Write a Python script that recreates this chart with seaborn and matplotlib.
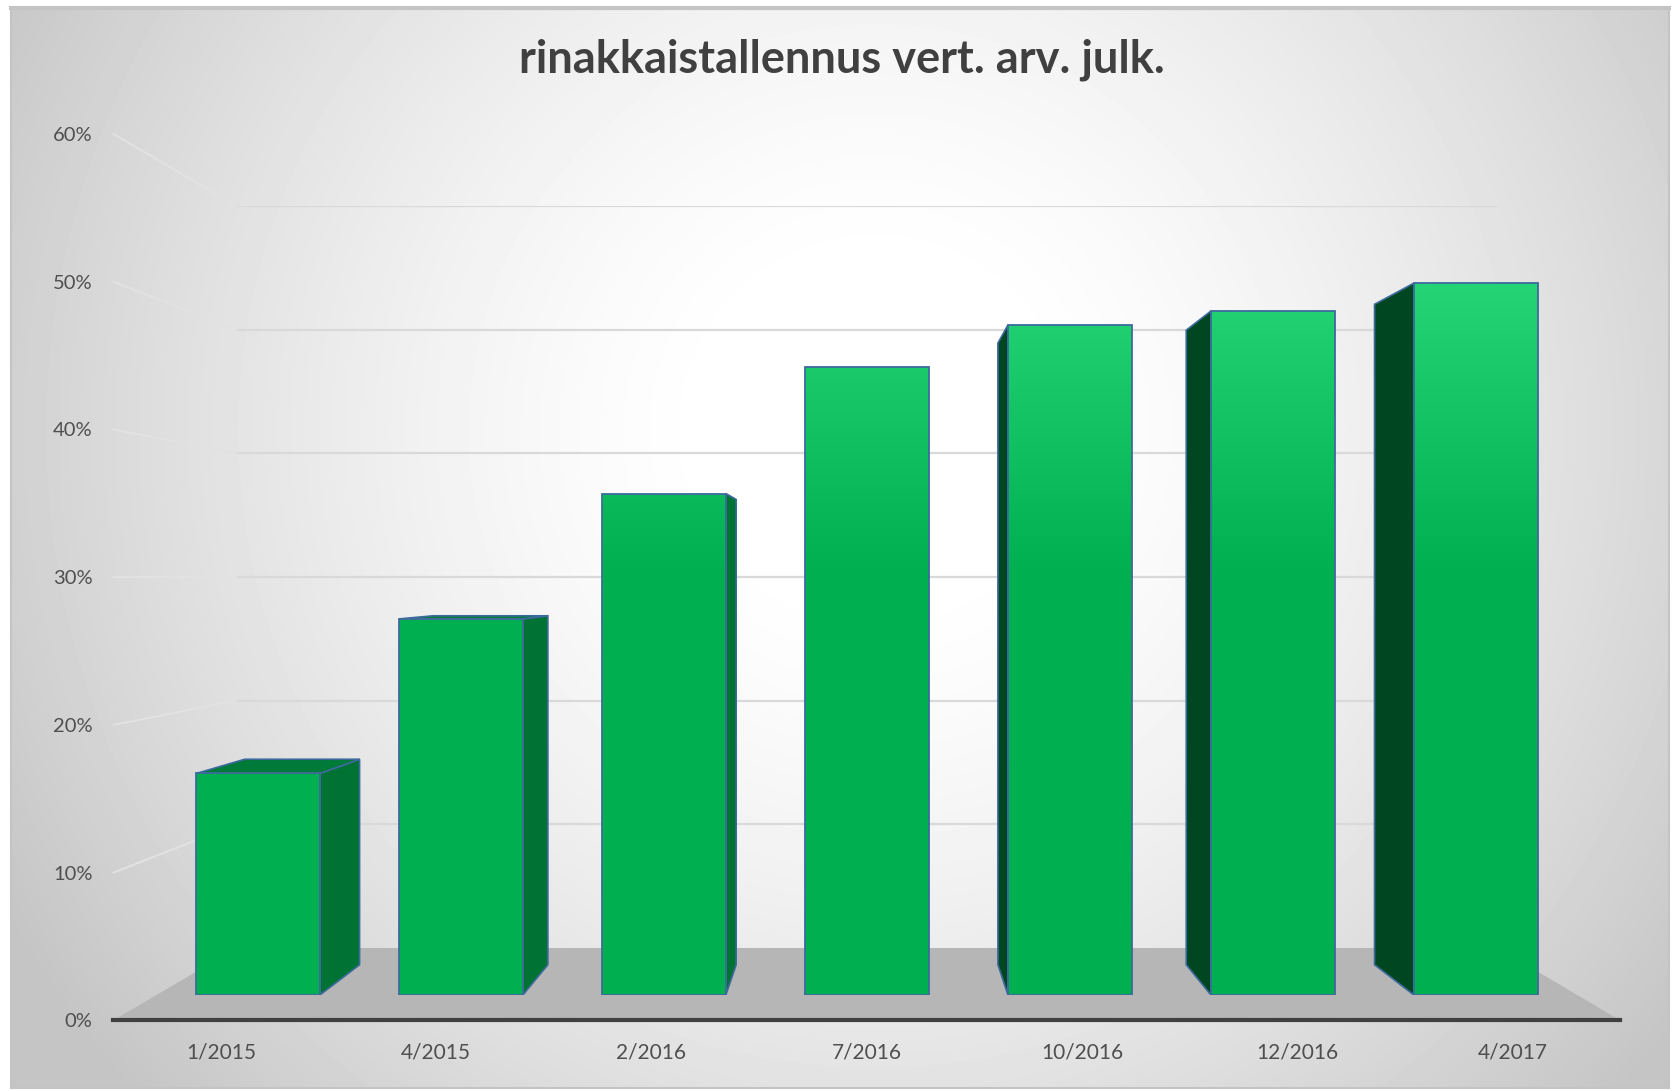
import numpy as np
import pandas as pd
import matplotlib
matplotlib.use('Agg')
from matplotlib import pyplot as plt
from matplotlib.patches import Polygon
from matplotlib.ticker import PercentFormatter
from matplotlib.colors import LinearSegmentedColormap
import seaborn as sns

# data
periods = ['1/2015', '4/2015', '2/2016', '7/2016', '10/2016', '12/2016', '4/2017']
share = [0.159, 0.270, 0.360, 0.451, 0.481, 0.491, 0.511]
y_ticks = [0.0, 0.1, 0.2, 0.3, 0.4, 0.5, 0.6]
title = 'rinakkaistallennus vert. arv. julk.'

sns.set_theme(style='white')
plt.rcParams['font.family'] = ['Lato', 'DejaVu Sans']

W, H = 1672, 1091
fig = plt.figure(figsize=(W / 100, H / 100), dpi=100, facecolor='white')

# fake 3D: front plane of the bars, vanishing point, depth factors
VX, VY = 869.0, 576.0
PLANE = (156.7, 159.3, 1577.1, 994.9)  # left, top (60%), right, bottom (0%)
K_BACK, K_DEPTH, K_FRONT = 0.888, 0.928, 1.061


def plane_rect(k):
    l, t, r, b = PLANE
    l, r = VX + (l - VX) * k, VX + (r - VX) * k
    t, b = VY + (t - VY) * k, VY + (b - VY) * k
    return [l / W, 1 - b / H, (r - l) / W, (b - t) / H]


# background with radial gradient
bg = fig.add_axes([11 / W, 1 - 1088 / H, 1658 / W, 1080 / H], zorder=0)
yy, xx = np.mgrid[0:1080, 0:1658]
r = np.hypot(xx + 11 - 875, yy + 8 - 430)
t = np.clip((r - 150) / 850, 0, 1) ** 1.4
bg.imshow(1 - 0.23 * t, cmap='gray', vmin=0, vmax=1, aspect='auto')
bg.set_xticks([])
bg.set_yticks([])
for s in bg.spines.values():
    s.set_color('#c4c4c4')
    s.set_linewidth(1.5)
bg.spines['top'].set_linewidth(3)

# back wall with gridlines
ax_back = fig.add_axes(plane_rect(K_BACK), zorder=1)
ax_back.set_xlim(-0.5, 6.5)
ax_back.set_ylim(0, 0.6)
ax_back.hlines(y_ticks[1:], -0.5, 6.5, color='#d9d9d9', lw=1.6)
ax_back.axis('off')

# bars on the front plane
ax = fig.add_axes(plane_rect(1.0), zorder=2)
df = pd.DataFrame({'period': periods, 'share': share})
sns.barplot(data=df, x='period', y='share', order=periods, ax=ax, width=0.61,
            color='#00b050', edgecolor='#3d6a9c', linewidth=1.3, saturation=1)
bars = list(ax.patches)
ax.set_xlim(-0.5, 6.5)
ax.set_ylim(0, 0.6)
ax.axis('off')
fig.canvas.draw()
vx, vy = ax.transData.inverted().transform((VX, H - VY))


def depth(p, k):
    return (vx + (p[0] - vx) * k, vy + (p[1] - vy) * k)


# floor
floor = [depth((-0.5, 0), K_BACK), depth((6.5, 0), K_BACK),
         depth((6.5, 0), K_FRONT), depth((-0.5, 0), K_FRONT)]
ax.add_patch(Polygon(floor, closed=True, fc='#b6b6b6', ec='none', zorder=0.2, clip_on=False))

# side wall gridlines
for v in y_ticks[1:]:
    a = depth((-0.5, v), K_FRONT)
    b = depth((-0.5, v), K_BACK)
    ax.plot([a[0], b[0]], [a[1], b[1]], color='#e2e2e2', lw=1.4, zorder=0.3, clip_on=False)

# gradient for front faces
green = LinearSegmentedColormap.from_list('g', ['#00b050', '#00b050', '#2bdb7c'])
grad = np.linspace(0, 1, 300).reshape(-1, 1)
grad = np.clip((grad - 0.5) / 0.42, 0, 1) * 0.5 + 0.5 * (grad > 0.5)
for bar in bars:
    x0, y0 = bar.get_x(), bar.get_y()
    x1, y1 = x0 + bar.get_width(), y0 + bar.get_height()
    faces = []
    if x1 < vx:
        faces.append(([(x1, y0), (x1, y1), depth((x1, y1), K_DEPTH), depth((x1, y0), K_DEPTH)], '#007233'))
    if x0 > vx:
        faces.append(([(x0, y0), (x0, y1), depth((x0, y1), K_DEPTH), depth((x0, y0), K_DEPTH)], '#004621'))
    if y1 < vy:
        faces.append(([(x0, y1), (x1, y1), depth((x1, y1), K_DEPTH), depth((x0, y1), K_DEPTH)], '#007a38'))
    for pts, col in faces:
        ax.add_patch(Polygon(pts, closed=True, fc=col, ec='#3d6a9c', lw=1.2, zorder=0.9))
    img = ax.imshow(grad, cmap=green, vmin=0, vmax=1, origin='lower',
                    extent=[-0.5, 6.5, 0, 0.6], aspect='auto', zorder=1)
    img.set_clip_path(bar)
    bar.set_facecolor('none')
    bar.set_zorder(1.1)
ax.set_xlim(-0.5, 6.5)
ax.set_ylim(0, 0.6)

# front axis with the labels
ax_front = fig.add_axes(plane_rect(K_FRONT), zorder=3)
ax_front.patch.set_visible(False)
ax_front.set_xlim(-0.5, 6.5)
ax_front.set_ylim(0, 0.6)
ax_front.set_xticks(range(len(periods)))
ax_front.set_xticklabels(periods)
ax_front.set_yticks(y_ticks)
ax_front.yaxis.set_major_formatter(PercentFormatter(1.0, decimals=0))
ax_front.tick_params(axis='both', length=0, labelcolor='#4f4f4f')
ax_front.tick_params(axis='y', pad=15, labelsize=14.5)
ax_front.tick_params(axis='x', pad=16, labelsize=15)
for side in ['left', 'top', 'right']:
    ax_front.spines[side].set_visible(False)
ax_front.spines['bottom'].set_color('#404040')
ax_front.spines['bottom'].set_linewidth(3)
ax_front.grid(False)

fig.text(842 / W, 1 - 60 / H, title, ha='center', va='center', fontsize=32.5,
         fontweight='bold', color='#404040')

fig.savefig('out.png', dpi=100)
